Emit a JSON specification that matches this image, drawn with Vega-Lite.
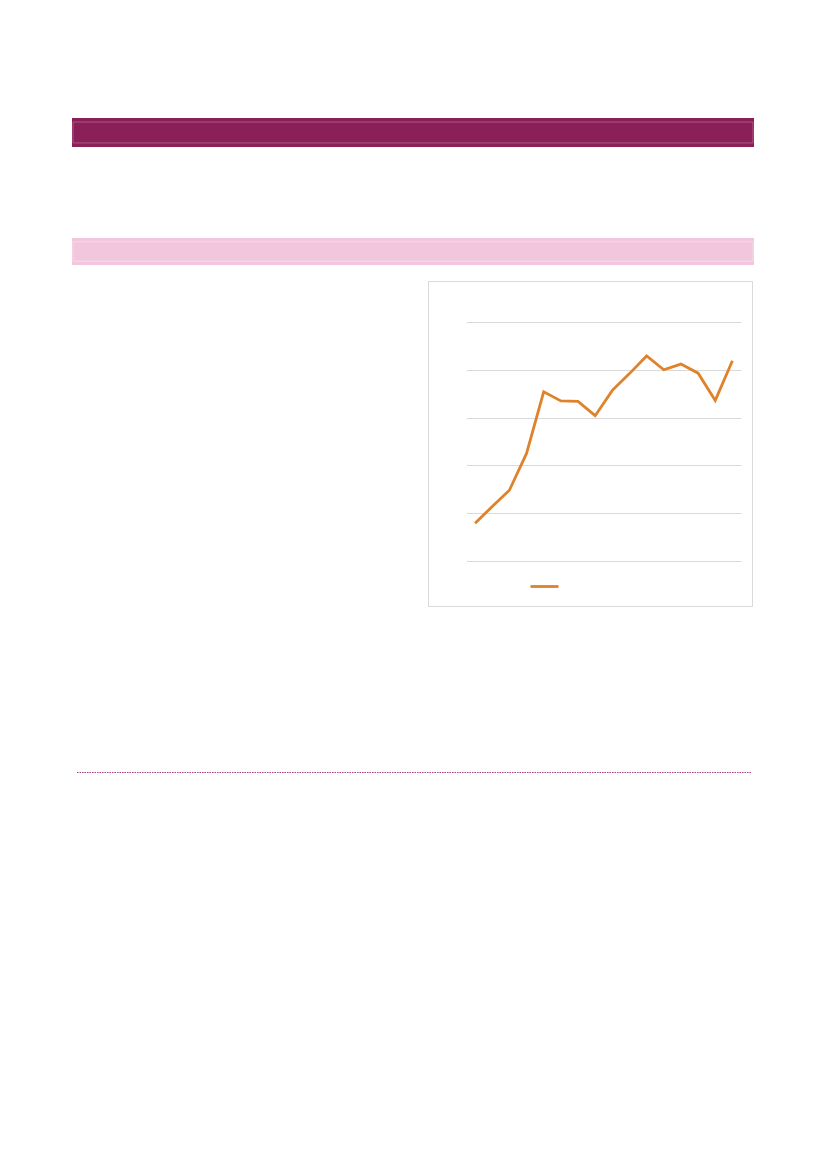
{
  "$schema": "https://vega.github.io/schema/vega-lite/v6.json",
  "padding": {"left": 72, "top": 118, "right": 0, "bottom": 0},
  "background": "white",
  "config": {"view": {"stroke": null}, "concat": {"spacing": 0}},
  "datasets": {
    "band": [{"x": 0, "x2": 1, "y": 0, "y2": 1}],
    "inner": [{"x": 0.0015, "x2": 0.9985, "y": 0.14, "y2": 0.86}],
    "series": [
      {"year": "2000", "value": 0.79, "series": "Series"},
      {"year": "2001", "value": 1.14, "series": "Series"},
      {"year": "2002", "value": 1.48, "series": "Series"},
      {"year": "2003", "value": 2.25, "series": "Series"},
      {"year": "2004", "value": 3.54, "series": "Series"},
      {"year": "2005", "value": 3.35, "series": "Series"},
      {"year": "2006", "value": 3.34, "series": "Series"},
      {"year": "2007", "value": 3.04, "series": "Series"},
      {"year": "2008", "value": 3.57, "series": "Series"},
      {"year": "2009", "value": 3.92, "series": "Series"},
      {"year": "2010", "value": 4.29, "series": "Series"},
      {"year": "2011", "value": 4.0, "series": "Series"},
      {"year": "2012", "value": 4.12, "series": "Series"},
      {"year": "2013", "value": 3.93, "series": "Series"},
      {"year": "2014", "value": 3.36, "series": "Series"},
      {"year": "2015", "value": 4.19, "series": "Series"}
    ]
  },
  "vconcat": [
    {
      "width": 682,
      "height": 29,
      "layer": [
        {
          "data": {"name": "band"},
          "mark": {"type": "rect", "fill": "#8B1F57"},
          "encoding": {
            "x": {"field": "x", "type": "quantitative", "scale": {"domain": [0, 1]}, "axis": null},
            "x2": {"field": "x2"},
            "y": {"field": "y", "type": "quantitative", "scale": {"domain": [0, 1]}, "axis": null},
            "y2": {"field": "y2"}
          }
        },
        {
          "data": {"name": "inner"},
          "mark": {"type": "rect", "fill": null, "stroke": "#B5668F", "strokeWidth": 0.8},
          "encoding": {
            "x": {"field": "x", "type": "quantitative", "scale": {"domain": [0, 1]}, "axis": null},
            "x2": {"field": "x2"},
            "y": {"field": "y", "type": "quantitative", "scale": {"domain": [0, 1]}, "axis": null},
            "y2": {"field": "y2"}
          }
        }
      ]
    },
    {"width": 682, "height": 91, "data": {"values": []}, "mark": "rect"},
    {
      "width": 682,
      "height": 27,
      "layer": [
        {
          "data": {"name": "band"},
          "mark": {"type": "rect", "fill": "#F2C6DC"},
          "encoding": {
            "x": {"field": "x", "type": "quantitative", "scale": {"domain": [0, 1]}, "axis": null},
            "x2": {"field": "x2"},
            "y": {"field": "y", "type": "quantitative", "scale": {"domain": [0, 1]}, "axis": null},
            "y2": {"field": "y2"}
          }
        },
        {
          "data": {"name": "inner"},
          "mark": {"type": "rect", "fill": null, "stroke": "#F8DEEA", "strokeWidth": 0.8},
          "encoding": {
            "x": {"field": "x", "type": "quantitative", "scale": {"domain": [0, 1]}, "axis": null},
            "x2": {"field": "x2"},
            "y": {"field": "y", "type": "quantitative", "scale": {"domain": [0, 1]}, "axis": null},
            "y2": {"field": "y2"}
          }
        }
      ]
    },
    {"width": 682, "height": 15, "data": {"values": []}, "mark": "rect"},
    {
      "hconcat": [
        {"width": 355, "height": 325, "data": {"values": []}, "mark": "rect"},
        {
          "width": 324,
          "height": 325,
          "view": {"stroke": "#D9D9D9", "strokeWidth": 1, "fill": "white"},
          "data": {"name": "series"},
          "mark": {"type": "line", "strokeWidth": 2.8},
          "encoding": {
            "x": {
              "field": "year",
              "type": "ordinal",
              "scale": {"type": "point", "range": [38.5, 313], "padding": 0.5},
              "axis": null
            },
            "y": {
              "field": "value",
              "type": "quantitative",
              "scale": {"domain": [0, 5], "range": [280, 41], "nice": false},
              "axis": {
                "grid": true,
                "gridColor": "#D9D9D9",
                "gridWidth": 1,
                "labels": false,
                "ticks": false,
                "domain": false,
                "title": null,
                "values": [0, 1, 2, 3, 4, 5]
              }
            },
            "color": {
              "field": "series",
              "type": "nominal",
              "scale": {"range": ["#E0822A"]},
              "legend": {
                "orient": "none",
                "legendX": 457,
                "legendY": 453,
                "title": null,
                "symbolType": "stroke",
                "symbolSize": 784,
                "symbolStrokeWidth": 2.8,
                "labelExpr": "''",
                "padding": 0
              }
            }
          }
        }
      ]
    },
    {"width": 682, "height": 165, "data": {"values": []}, "mark": "rect"},
    {
      "hconcat": [
        {"width": 4, "height": 1, "data": {"values": []}, "mark": "rect"},
        {
          "width": 674,
          "height": 1,
          "data": {"name": "band"},
          "mark": {"type": "rule", "stroke": "#A8407F", "strokeWidth": 1, "strokeDash": [1.5, 1]},
          "encoding": {
            "x": {"field": "x", "type": "quantitative", "scale": {"domain": [0, 1]}, "axis": null},
            "x2": {"field": "x2"}
          }
        }
      ]
    }
  ]
}
